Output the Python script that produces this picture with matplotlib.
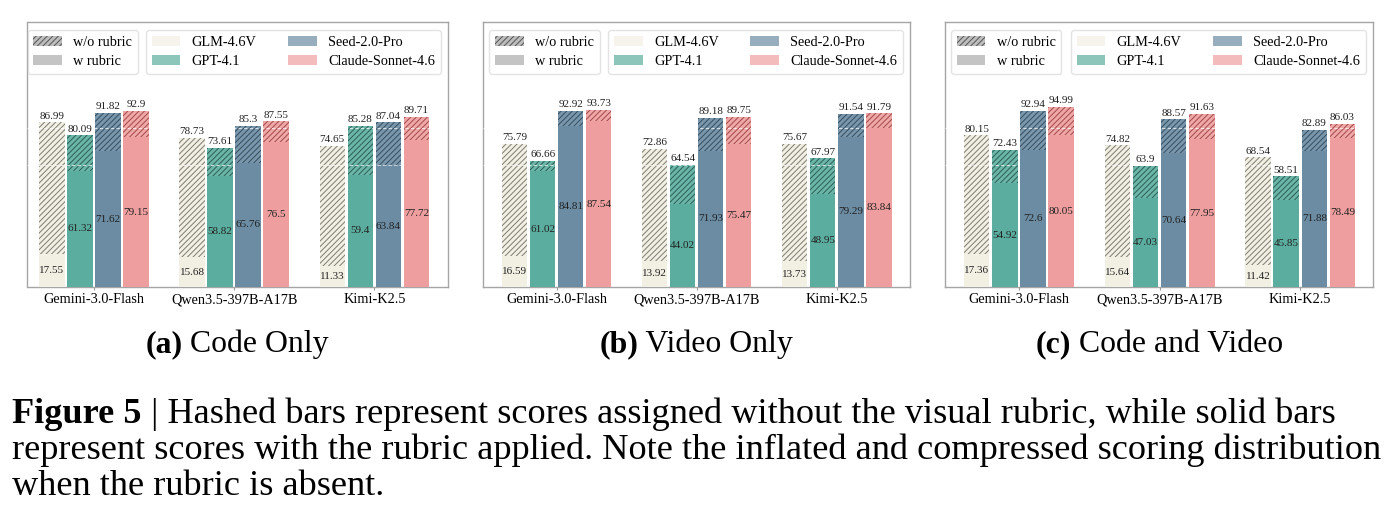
import matplotlib
matplotlib.use('Agg')
import matplotlib.pyplot as plt
from matplotlib.patches import Patch

# ---------------- data ----------------
judges = ['Gemini-3.0-Flash', 'Qwen3.5-397B-A17B', 'Kimi-K2.5']
models = ['GLM-4.6V', 'GPT-4.1', 'Seed-2.0-Pro', 'Claude-Sonnet-4.6']
panel_titles = ['Code Only', 'Video Only', 'Code and Video']
panel_tags = ['(a)', '(b)', '(c)']

# rows: GLM, GPT, Seed, Claude ; columns: judges
code_without = [[86.99, 78.73, 74.65], [80.09, 73.61, 85.28],
                [91.82, 85.3, 87.04], [92.9, 87.55, 89.71]]
code_with = [[17.55, 15.68, 11.33], [61.32, 58.82, 59.4],
             [71.62, 65.76, 63.84], [79.15, 76.5, 77.72]]
video_without = [[75.79, 72.86, 75.67], [66.66, 64.54, 67.97],
                 [92.92, 89.18, 91.54], [93.73, 89.75, 91.79]]
video_with = [[16.59, 13.92, 13.73], [61.02, 44.02, 48.95],
              [84.81, 71.93, 79.29], [87.54, 75.47, 83.84]]
both_without = [[80.15, 74.82, 68.54], [72.43, 63.9, 58.51],
                [92.94, 88.57, 82.89], [94.99, 91.63, 86.03]]
both_with = [[17.36, 15.64, 11.42], [54.92, 47.03, 45.85],
             [72.6, 70.64, 71.88], [80.05, 77.95, 78.49]]

caption_lines = [
    ("Figure 5", " | Hashed bars represent scores assigned without the visual rubric, while solid bars"),
    ("", "represent scores with the rubric applied. Note the inflated and compressed scoring distribution"),
    ("", "when the rubric is absent."),
]

# ---------------- style ----------------
bar_colors = ['#F2EFE3', '#5BAE9F', '#6B8CA3', '#EE9E9E']
hatch_colors = ['#7d7b73', '#23564d', '#2f4555', '#9a3f3f']
FONT = ['Liberation Serif', 'DejaVu Serif']
plt.rcParams['font.family'] = FONT
plt.rcParams['hatch.linewidth'] = 0.7

W, H = 1394, 526
fig = plt.figure(figsize=(W / 100, H / 100), dpi=100)

def px_rect(x0, y0, x1, y1):
    return [x0 / W, 1 - y1 / H, (x1 - x0) / W, (y1 - y0) / H]

rects = [(27.5, 22, 447.7, 287), (483.3, 22, 910, 287), (945, 22, 1372.7, 287)]
xlims = [(-0.474, 2.523), (-0.524, 2.523), (-0.525, 2.515)]
panels = [(code_without, code_with), (video_without, video_with),
          (both_without, both_with)]

step, width = 0.2, 0.182
for p, ((wo, wi), rect, xl) in enumerate(zip(panels, rects, xlims)):
    ax = fig.add_axes(px_rect(*rect))
    ax_w = rect[2] - rect[0]
    ax_h = rect[3] - rect[1]
    for i in range(len(models)):
        xs = [g + (i - 1.5) * step for g in range(len(judges))]
        tops = wo[i]
        base = wi[i]
        ax.bar(xs, [t - b for t, b in zip(tops, base)], bottom=base, width=width,
               color=bar_colors[i], edgecolor=hatch_colors[i], hatch='//////',
               linewidth=0, zorder=2, alpha=0.9 if i else 1.0)
        ax.bar(xs, base, width=width, color=bar_colors[i], linewidth=0, zorder=4)
        for x, t, b in zip(xs, tops, base):
            ax.text(x, t + 0.9, f'{t:g}', ha='center', va='bottom', fontsize=8,
                    color='#222222', zorder=6)
            ax.text(x, b / 2, f'{b:g}', ha='center', va='center', fontsize=8,
                    color='#222222', zorder=6)
    for yv in (64.3, 83.8):
        ax.axhline(yv, color='white', lw=0.8, ls=(0, (3, 2)), alpha=0.7, zorder=3)
    ax.set_xlim(*xl)
    ax.set_ylim(0, 140)
    ax.set_yticks([])
    ax.set_xticks(range(len(judges)))
    ax.set_xticklabels(judges, fontsize=10.3)
    ax.tick_params(axis='x', length=2.5, pad=2, color='#999999', width=0.8)
    for s in ax.spines.values():
        s.set_color('#a5a5a5')
        s.set_linewidth(1.0)

    h1 = [Patch(facecolor='#bdbdbd', edgecolor='#555555', hatch='//////', linewidth=0),
          Patch(facecolor='#c4c4c4', linewidth=0)]
    left_off = (6 if p else 0) / ax_w
    leg1 = ax.legend(h1, ['w/o rubric', 'w rubric'], loc='upper left',
                     bbox_to_anchor=(left_off, 1 - 8 / ax_h), borderaxespad=0,
                     fontsize=10.3, frameon=True,
                     handlelength=2.0, labelspacing=0.45)
    leg1.get_frame().set_edgecolor('#dddddd')
    ax.add_artist(leg1)
    h2 = [Patch(facecolor=c, alpha=0.7, linewidth=0) for c in bar_colors]
    leg2 = ax.legend(h2, models, loc='upper right', ncol=2, fontsize=10.3,
                     bbox_to_anchor=(1 - 7 / ax_w, 1 - 8 / ax_h), borderaxespad=0,
                     frameon=True, handlelength=2.0, labelspacing=0.45,
                     columnspacing=2.2)
    leg2.get_frame().set_edgecolor('#dddddd')

# ---------------- captions ----------------
renderer = fig.canvas.get_renderer()

def width_of(txt, size, weight='normal'):
    t = fig.text(0, 0, txt, fontsize=size, fontweight=weight)
    w = t.get_window_extent(renderer).width
    t.remove()
    return w

# subcaptions
sub_targets = [(148, 326), (598, 794), (1033, 1286)]
ref = 10.0
scales = []
for tag, title, (x0, x1) in zip(panel_tags, panel_titles, sub_targets):
    wtot = width_of(tag, ref, 'bold') + width_of(' ' + title, ref)
    scales.append((x1 - x0) / wtot)
sub_size = ref * sum(scales) / len(scales)
for tag, title, (x0, x1) in zip(panel_tags, panel_titles, sub_targets):
    w1 = width_of(tag, sub_size, 'bold')
    w2 = width_of(' ' + title, sub_size)
    start = (x0 + x1) / 2 - (w1 + w2) / 2
    yb = 1 - 352 / H
    fig.text(start / W, yb, tag, fontsize=sub_size, fontweight='bold', va='baseline')
    fig.text((start + w1) / W, yb, ' ' + title, fontsize=sub_size, va='baseline')

# figure caption
wl = width_of(caption_lines[0][0], ref, 'bold') + width_of(caption_lines[0][1], ref)
wl2 = width_of(caption_lines[1][1], ref)
cap_size = ref * min((1362 - 12) / wl, (1377 - 12) / wl2)
baselines = [423, 459, 495]
for (bold, rest), yb in zip(caption_lines, baselines):
    x = 12
    y = 1 - yb / H
    if bold:
        fig.text(x / W, y, bold, fontsize=cap_size, fontweight='bold', va='baseline')
        x += width_of(bold, cap_size, 'bold')
    fig.text(x / W, y, rest, fontsize=cap_size, va='baseline')

fig.savefig('out.png', dpi=100)
